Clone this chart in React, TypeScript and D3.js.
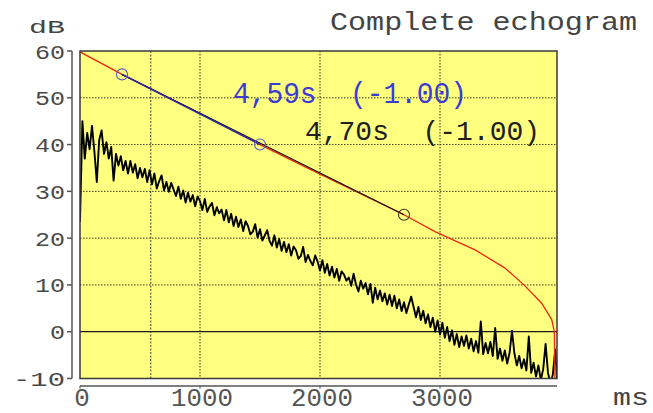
import React from 'react';
import * as d3 from 'd3';

const W = 653;
const H = 413;

const X_DOMAIN = [0, 3975];
const Y_DOMAIN = [-10, 60];
const X_TICKS = [0, 1000, 2000, 3000];
const Y_TICKS = [-10, 0, 10, 20, 30, 40, 50, 60];
const X_GRID = [1000, 2000, 3000];
const Y_GRID = [10, 20, 30, 40, 50];
const MARKER_MS = 590;

const ECHO_STEP_MS = 20;
const ECHO_DB = [
  23.5, 45, 37, 42.5, 39, 44, 38.5, 32, 41, 43,
  38, 40.5, 37, 39.5, 32.3, 38, 35.5, 37.5, 34.5, 36.5,
  33.8, 36.5, 34, 35.8, 32.8, 35, 33, 34.8, 32, 34.5,
  31.5, 33.8, 30.6, 32.2, 33.4, 30.2, 32, 29.9, 31.8, 30.4,
  29, 31, 28.4, 30.2, 27.6, 29.7, 27.8, 29.2, 26.8, 28.9,
  27.9, 26, 28.4, 25.6, 26.8, 27.5, 24.9, 26.6, 25.3, 26.1,
  23.8, 26, 23.4, 25.2, 22.6, 24.6, 22.4, 24, 21.5, 23.6,
  22.6, 20.8, 21.4, 23, 20.1, 21.9, 19.5, 20.6, 21.7, 19.4,
  18.4, 20.6, 18, 19.8, 17.3, 19.2, 17, 18.7, 16.3, 18.2,
  17.4, 15.6, 16.2, 18.1, 14.9, 16.4, 15.1, 14.2, 16.3, 15,
  13.1, 15.3, 12.6, 14.5, 12, 13.9, 11.6, 13.4, 10.9, 12.9,
  12.2, 10.9, 11.6, 9.8, 12.4, 10.1, 8.6, 10.9, 9.2, 10.4,
  8, 10.2, 6.2, 9.4, 6.9, 8.8, 6.5, 8.2, 5.8, 7.9,
  5.5, 7.7, 5, 6.9, 4.4, 6.3, 4, 5.8, 7.5, 5.3,
  3.1, 5.3, 2.5, 4.5, 1.8, 3.7, 1, 3, 0, 2.4,
  -0.6, 1.9, -1.3, 1, -2, 0.3, -2.8, -0.5, -3.3, -1,
  -3, -0.8, -3.6, -1.5, -4.2, -2, -4.5, 2.2, -4.8, -2.4,
  -4.6, -2.2, -5.2, 0.8, -5.8, -3.6, -6.2, -4, -6.8, -4.5,
  0.2, -4.6, -7.2, -5.2, -7.8, -5.9, -8.3, -1, -8.8, -6.6,
  -9.6, -7.2, -10.3, -8, -2.6, -8.8, -11, -9.2, -3.8, -12,
];

const SCHROEDER_MS = [0, 350, 1000, 1500, 2000, 2700, 2958, 3292, 3542, 3708, 3847, 3931, 3953, 3958];
const SCHROEDER_DB = [59.8, 55, 46.6, 40, 33.7, 25, 21.4, 17.5, 13.6, 9.8, 6.1, 2.6, 0, -10];

const FIT_T20_MS = [350, 1500];
const FIT_T20_DB = [55, 40];
const FIT_T30_MS = [350, 2700];
const FIT_T30_DB = [55, 25];
const FIT_POINT_MS = [350, 1500, 2700];
const FIT_POINT_DB = [55, 40, 25];

const LABEL_T20 = '4,59s  (-1.00)';
const LABEL_T30 = '4,70s  (-1.00)';
const TITLE = 'Complete echogram';
const Y_UNIT = 'dB';
const X_UNIT = 'ms';

const PL = 80, PR = 557, PT = 51, PB = 378.5;
const FONT = '"Liberation Mono", "DejaVu Sans Mono", monospace';

export default function App() {
  const x = d3.scaleLinear().domain(X_DOMAIN).range([PL, PR]);
  const y = d3.scaleLinear().domain(Y_DOMAIN).range([PB, PT]);
  const line = d3.line<[number, number]>().x(d => x(d[0])).y(d => y(d[1]));

  const echo: [number, number][] = ECHO_DB.map((v, i) => [i * ECHO_STEP_MS, v]);
  const schroeder: [number, number][] = SCHROEDER_MS.map((t, i) => [t, SCHROEDER_DB[i]]);
  const t20: [number, number][] = FIT_T20_MS.map((t, i) => [t, FIT_T20_DB[i]]);
  const t30: [number, number][] = FIT_T30_MS.map((t, i) => [t, FIT_T30_DB[i]]);
  const circleColors = ['#5a5ac8', '#5a5ac8', '#3a3a2a'];

  return (
    <svg width={W} height={H} style={{ position: 'absolute', left: 0, top: 0, background: '#fff' }}
      fontFamily={FONT}>
      <defs>
        <clipPath id="plotclip">
          <rect x={PL} y={PT} width={PR - PL} height={PB - PT} />
        </clipPath>
      </defs>
      <rect x={PL} y={PT} width={PR - PL} height={PB - PT} fill="#ffff80" />
      {Y_GRID.map(v => (
        <line key={'gy' + v} x1={PL} x2={PR} y1={y(v)} y2={y(v)} stroke="#3a3a20" strokeWidth={1}
          strokeDasharray="1.5 1.5" />
      ))}
      {X_GRID.map(v => (
        <line key={'gx' + v} x1={x(v)} x2={x(v)} y1={PT} y2={PB} stroke="#3a3a20" strokeWidth={1}
          strokeDasharray="1.5 1.5" />
      ))}
      <line x1={x(MARKER_MS)} x2={x(MARKER_MS)} y1={PT} y2={PB} stroke="#3a3a50" strokeWidth={1}
        strokeDasharray="2 1.5" />
      <line x1={PL} x2={PR} y1={y(0)} y2={y(0)} stroke="#1a1a1a" strokeWidth={1.2} />

      <g clipPath="url(#plotclip)">
        <path d={line(echo) || ''} fill="none" stroke="#000" strokeWidth={1.9} strokeLinejoin="round" />
        <path d={line(schroeder) || ''} fill="none" stroke="#f02810" strokeWidth={1.3} />
        <path d={line(t30) || ''} fill="none" stroke="#111" strokeWidth={1.2} />
        <path d={line(t20) || ''} fill="none" stroke="#2a2ab8" strokeWidth={1.4} />
        {FIT_POINT_MS.map((t, i) => (
          <circle key={'c' + i} cx={x(t)} cy={y(FIT_POINT_DB[i])} r={5.5} fill="none"
            stroke={circleColors[i]} strokeWidth={1.1} />
        ))}
      </g>
      <rect x={PL} y={PT} width={PR - PL} height={PB - PT} fill="none" stroke="#3a3a3a" strokeWidth={1.5} />

      <line x1={72} x2={72} y1={PT} y2={PB} stroke="#555" strokeWidth={1.5} />
      {Y_TICKS.map(v => (
        <g key={'yt' + v}>
          <line x1={67} x2={72} y1={y(v)} y2={y(v)} stroke="#555" strokeWidth={1.5} />
          <text x={65} y={y(v) + 7.5} textAnchor="end" fontSize={21} fill="#4a4a4a"
            textLength={v < 0 ? 52 : String(v).length * 15} lengthAdjust="spacingAndGlyphs">{String(v)}</text>
        </g>
      ))}
      <line x1={PL} x2={PR} y1={386} y2={386} stroke="#555" strokeWidth={1.5} />
      {X_TICKS.map(v => (
        <g key={'xt' + v}>
          <line x1={x(v)} x2={x(v)} y1={386} y2={388.5} stroke="#555" strokeWidth={1.2} />
          <text transform={`translate(${x(v) + 2},${405.5}) scale(1,1.3)`} textAnchor="middle"
            fontSize={20} fill="#555" textLength={String(v).length * 15.5}
            lengthAdjust="spacingAndGlyphs">{String(v)}</text>
        </g>
      ))}

      <text x={637} y={30} textAnchor="end" fontSize={26} fill="#444" textLength={307}
        lengthAdjust="spacingAndGlyphs" style={{ whiteSpace: 'pre' }}>{TITLE}</text>
      <text x={29} y={33} fontSize={19} fill="#444" textLength={36}
        lengthAdjust="spacingAndGlyphs">{Y_UNIT}</text>
      <text x={613} y={405} fontSize={24} fill="#444" textLength={36}
        lengthAdjust="spacingAndGlyphs">{X_UNIT}</text>

      <text transform="translate(233,103) scale(1,1.18)" fontSize={25} fill="#3c3cd0" textLength={234}
        lengthAdjust="spacingAndGlyphs" style={{ whiteSpace: 'pre' }}>{LABEL_T20}</text>
      <text transform="translate(305,140) scale(1,1.12)" fontSize={24} fill="#202020" textLength={235}
        lengthAdjust="spacingAndGlyphs" style={{ whiteSpace: 'pre' }}>{LABEL_T30}</text>
    </svg>
  );
}
